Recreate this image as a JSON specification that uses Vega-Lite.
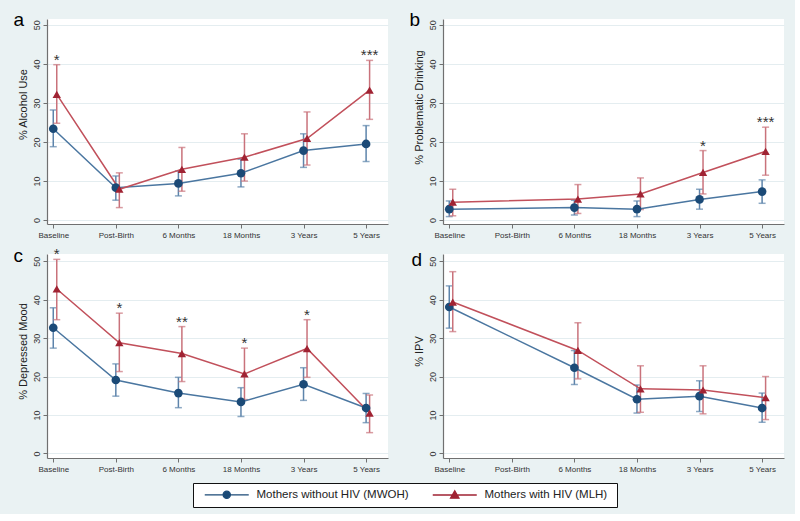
{
"$schema": "https://vega.github.io/schema/vega-lite/v6.json",
"background": "#eaf2f3",
"padding": {"left": 13, "top": 10, "right": 11, "bottom": 6},
"datasets": {"rows": [
{"panel":"a","g":"MWOH","t":1,"v":23.4,"lo":18.8,"hi":28.2},
{"panel":"a","g":"MWOH","t":2,"v":8.3,"lo":5.1,"hi":11.3},
{"panel":"a","g":"MWOH","t":3,"v":9.4,"lo":6.2,"hi":12.6},
{"panel":"a","g":"MWOH","t":4,"v":12.0,"lo":8.5,"hi":15.6},
{"panel":"a","g":"MWOH","t":5,"v":17.8,"lo":13.5,"hi":22.1},
{"panel":"a","g":"MWOH","t":6,"v":19.5,"lo":15.0,"hi":24.2},
{"panel":"a","g":"MLH","t":1,"v":32.2,"lo":24.8,"hi":39.8,"sig":"*"},
{"panel":"a","g":"MLH","t":2,"v":7.9,"lo":3.2,"hi":12.1},
{"panel":"a","g":"MLH","t":3,"v":13.0,"lo":7.4,"hi":18.6},
{"panel":"a","g":"MLH","t":4,"v":16.1,"lo":10.0,"hi":22.1},
{"panel":"a","g":"MLH","t":5,"v":20.9,"lo":14.1,"hi":27.7},
{"panel":"a","g":"MLH","t":6,"v":33.3,"lo":25.8,"hi":40.9,"sig":"***"},
{"panel":"b","g":"MWOH","t":1,"v":2.8,"lo":0.9,"hi":4.9},
{"panel":"b","g":"MWOH","t":3,"v":3.2,"lo":1.3,"hi":5.1},
{"panel":"b","g":"MWOH","t":4,"v":2.8,"lo":0.9,"hi":4.9},
{"panel":"b","g":"MWOH","t":5,"v":5.3,"lo":2.8,"hi":7.9},
{"panel":"b","g":"MWOH","t":6,"v":7.3,"lo":4.3,"hi":10.3},
{"panel":"b","g":"MLH","t":1,"v":4.6,"lo":1.1,"hi":7.9},
{"panel":"b","g":"MLH","t":3,"v":5.4,"lo":1.7,"hi":9.1},
{"panel":"b","g":"MLH","t":4,"v":6.7,"lo":2.7,"hi":10.8},
{"panel":"b","g":"MLH","t":5,"v":12.2,"lo":6.7,"hi":17.8,"sig":"*"},
{"panel":"b","g":"MLH","t":6,"v":17.6,"lo":11.5,"hi":23.8,"sig":"***"},
{"panel":"c","g":"MWOH","t":1,"v":32.7,"lo":27.4,"hi":37.9},
{"panel":"c","g":"MWOH","t":2,"v":19.1,"lo":14.9,"hi":23.3},
{"panel":"c","g":"MWOH","t":3,"v":15.7,"lo":11.9,"hi":19.8},
{"panel":"c","g":"MWOH","t":4,"v":13.4,"lo":9.6,"hi":17.1},
{"panel":"c","g":"MWOH","t":5,"v":18.0,"lo":13.8,"hi":22.3},
{"panel":"c","g":"MWOH","t":6,"v":11.8,"lo":8.0,"hi":15.6},
{"panel":"c","g":"MLH","t":1,"v":42.8,"lo":34.8,"hi":50.5,"sig":"*"},
{"panel":"c","g":"MLH","t":2,"v":28.8,"lo":21.3,"hi":36.5,"sig":"*"},
{"panel":"c","g":"MLH","t":3,"v":26.0,"lo":18.7,"hi":33.0,"sig":"**"},
{"panel":"c","g":"MLH","t":4,"v":20.7,"lo":14.0,"hi":27.4,"sig":"*"},
{"panel":"c","g":"MLH","t":5,"v":27.3,"lo":19.8,"hi":34.8,"sig":"*"},
{"panel":"c","g":"MLH","t":6,"v":10.5,"lo":5.4,"hi":15.2},
{"panel":"d","g":"MWOH","t":1,"v":38.1,"lo":32.6,"hi":43.6},
{"panel":"d","g":"MWOH","t":3,"v":22.3,"lo":17.9,"hi":26.8},
{"panel":"d","g":"MWOH","t":4,"v":14.1,"lo":10.5,"hi":17.8},
{"panel":"d","g":"MWOH","t":5,"v":14.9,"lo":10.9,"hi":18.9},
{"panel":"d","g":"MWOH","t":6,"v":11.8,"lo":8.1,"hi":15.7},
{"panel":"d","g":"MLH","t":1,"v":39.4,"lo":31.7,"hi":47.3},
{"panel":"d","g":"MLH","t":3,"v":26.8,"lo":19.4,"hi":34.0},
{"panel":"d","g":"MLH","t":4,"v":16.8,"lo":10.7,"hi":22.8},
{"panel":"d","g":"MLH","t":5,"v":16.5,"lo":10.3,"hi":22.8},
{"panel":"d","g":"MLH","t":6,"v":14.5,"lo":8.8,"hi":20.0}
]},
"columns": 2,
"spacing": {"row": 30, "column": 55},
"bounds": "flush",
"concat": [
{
 "width": 341, "height": 205,
 "data": {"name": "rows"},
 "transform": [{"filter": "datum.panel=='a'"}],
 "encoding": {
  "x": {"field": "t", "type": "quantitative", "scale": {"domain": [0.9, 6.35], "nice": false, "zero": false}, "axis": {"values": [1,2,3,4,5,6], "labelExpr": "['','Baseline','Post-Birth','6 Months','18 Months','3 Years','5 Years'][datum.value]", "title": "a", "titleX": -34, "titleY": -199}},
  "y": {"field": "v", "type": "quantitative", "scale": {"domain": [-1, 51.5], "nice": false, "zero": false}, "axis": {"values": [0,10,20,30,40,50], "title": "% Alcohol Use", "titleY": 85}}
 },
 "layer": [
  {"transform": [{"filter": "datum.g=='MWOH'"}], "mark": {"type": "rule", "color": "#5d84ab", "strokeWidth": 1.5}, "encoding": {"y": {"field": "lo", "type": "quantitative", "scale": {"domain": [-1, 51.5], "nice": false, "zero": false}}, "y2": {"field": "hi"}}},
  {"transform": [{"filter": "datum.g=='MWOH'"}], "mark": {"type": "tick", "orient": "horizontal", "size": 7, "thickness": 1.5, "color": "#5d84ab"}, "encoding": {"y": {"field": "lo", "type": "quantitative", "scale": {"domain": [-1, 51.5], "nice": false, "zero": false}}}},
  {"transform": [{"filter": "datum.g=='MWOH'"}], "mark": {"type": "tick", "orient": "horizontal", "size": 7, "thickness": 1.5, "color": "#5d84ab"}, "encoding": {"y": {"field": "hi", "type": "quantitative", "scale": {"domain": [-1, 51.5], "nice": false, "zero": false}}}},
  {"transform": [{"filter": "datum.g=='MLH'"}], "mark": {"type": "rule", "color": "#c9727b", "strokeWidth": 1.5, "xOffset": 3.5}, "encoding": {"y": {"field": "lo", "type": "quantitative", "scale": {"domain": [-1, 51.5], "nice": false, "zero": false}}, "y2": {"field": "hi"}}},
  {"transform": [{"filter": "datum.g=='MLH'"}], "mark": {"type": "tick", "orient": "horizontal", "size": 7, "thickness": 1.5, "color": "#c9727b", "xOffset": 3.5}, "encoding": {"y": {"field": "lo", "type": "quantitative", "scale": {"domain": [-1, 51.5], "nice": false, "zero": false}}}},
  {"transform": [{"filter": "datum.g=='MLH'"}], "mark": {"type": "tick", "orient": "horizontal", "size": 7, "thickness": 1.5, "color": "#c9727b", "xOffset": 3.5}, "encoding": {"y": {"field": "hi", "type": "quantitative", "scale": {"domain": [-1, 51.5], "nice": false, "zero": false}}}},
  {"transform": [{"filter": "datum.g=='MWOH'"}], "mark": {"type": "line", "color": "#4a76a0", "strokeWidth": 1.5}, "encoding": {}},
  {"transform": [{"filter": "datum.g=='MLH'"}], "mark": {"type": "line", "color": "#c1505b", "strokeWidth": 1.5, "xOffset": 3.5}, "encoding": {}},
  {"transform": [{"filter": "datum.g=='MWOH'"}], "mark": {"type": "point", "shape": "circle", "filled": true, "size": 75, "color": "#1b4a77", "opacity": 1}},
  {"transform": [{"filter": "datum.g=='MLH'"}], "mark": {"type": "point", "shape": "triangle-up", "filled": true, "size": 70, "color": "#a02333", "opacity": 1, "xOffset": 3.5}},
  {"transform": [{"filter": "datum.sig"}], "mark": {"type": "text", "xOffset": 3.5, "dy": 0, "fontSize": 15, "baseline": "alphabetic", "color": "#333", "font": "Liberation Sans"}, "encoding": {"text": {"field": "sig"}, "y": {"field": "hi", "type": "quantitative", "scale": {"domain": [-1, 51.5], "nice": false, "zero": false}}}},
  {"mark": {"type": "point", "filled": true, "opacity": 0, "size": 64},
   "encoding": {
    "color": {"field": "g", "type": "nominal", "scale": {"domain": ["MWOH", "MLH"], "range": ["#1b4a77", "#a02333"]},
      "legend": {"orient": "none", "legendX": 146, "legendY": 464, "direction": "horizontal", "columns": 2, "title": null,
        "labelExpr": "datum.label=='MWOH' ? 'Mothers without HIV  (MWOH)' : 'Mothers with HIV  (MLH)'",
        "labelFont": "Liberation Sans", "labelFontSize": 11.5, "labelColor": "#222", "labelOffset": 46, "columnPadding": 15, "padding": 6,
        "strokeColor": "#111", "fillColor": "#ffffff", "symbolSize": 64,
        "encode": {"symbols": {"update": {"fill": {"scale": "color", "field": "value"}, "stroke": {"scale": "color", "field": "value"}, "strokeWidth": {"value": 1.3}, "opacity": {"value": 1}}}}}},
    "shape": {"field": "g", "type": "nominal", "scale": {"domain": ["MWOH", "MLH"], "range": ["M0,0H11M6.4,0A0.9,0.9,0,1,1,4.6,0A0.9,0.9,0,1,1,6.4,0Z", "M0,0H11M5.5,-1.05L6.55,0.8L4.45,0.8Z"]},
      "legend": {"orient": "none", "legendX": 146, "legendY": 464, "direction": "horizontal", "columns": 2, "title": null,
        "labelExpr": "datum.label=='MWOH' ? 'Mothers without HIV  (MWOH)' : 'Mothers with HIV  (MLH)'",
        "labelFont": "Liberation Sans", "labelFontSize": 11.5, "labelColor": "#222", "labelOffset": 46, "columnPadding": 15, "padding": 6,
        "strokeColor": "#111", "fillColor": "#ffffff", "symbolSize": 64,
        "encode": {"symbols": {"update": {"fill": {"scale": "color", "field": "value"}, "stroke": {"scale": "color", "field": "value"}, "strokeWidth": {"value": 1.3}, "opacity": {"value": 1}}}}}}
   }}
 ]
},
{
 "width": 341, "height": 205,
 "data": {"name": "rows"},
 "transform": [{"filter": "datum.panel=='b'"}],
 "encoding": {
  "x": {"field": "t", "type": "quantitative", "scale": {"domain": [0.9, 6.35], "nice": false, "zero": false}, "axis": {"values": [1,2,3,4,5,6], "labelExpr": "['','Baseline','Post-Birth','6 Months','18 Months','3 Years','5 Years'][datum.value]", "title": "b", "titleX": -34, "titleY": -199}},
  "y": {"field": "v", "type": "quantitative", "scale": {"domain": [-1, 51.5], "nice": false, "zero": false}, "axis": {"values": [0,10,20,30,40,50], "title": "% Problematic Drinking", "titleY": 88}}
 },
 "layer": [
  {"transform": [{"filter": "datum.g=='MWOH'"}], "mark": {"type": "rule", "color": "#5d84ab", "strokeWidth": 1.5}, "encoding": {"y": {"field": "lo", "type": "quantitative", "scale": {"domain": [-1, 51.5], "nice": false, "zero": false}}, "y2": {"field": "hi"}}},
  {"transform": [{"filter": "datum.g=='MWOH'"}], "mark": {"type": "tick", "orient": "horizontal", "size": 7, "thickness": 1.5, "color": "#5d84ab"}, "encoding": {"y": {"field": "lo", "type": "quantitative", "scale": {"domain": [-1, 51.5], "nice": false, "zero": false}}}},
  {"transform": [{"filter": "datum.g=='MWOH'"}], "mark": {"type": "tick", "orient": "horizontal", "size": 7, "thickness": 1.5, "color": "#5d84ab"}, "encoding": {"y": {"field": "hi", "type": "quantitative", "scale": {"domain": [-1, 51.5], "nice": false, "zero": false}}}},
  {"transform": [{"filter": "datum.g=='MLH'"}], "mark": {"type": "rule", "color": "#c9727b", "strokeWidth": 1.5, "xOffset": 3.5}, "encoding": {"y": {"field": "lo", "type": "quantitative", "scale": {"domain": [-1, 51.5], "nice": false, "zero": false}}, "y2": {"field": "hi"}}},
  {"transform": [{"filter": "datum.g=='MLH'"}], "mark": {"type": "tick", "orient": "horizontal", "size": 7, "thickness": 1.5, "color": "#c9727b", "xOffset": 3.5}, "encoding": {"y": {"field": "lo", "type": "quantitative", "scale": {"domain": [-1, 51.5], "nice": false, "zero": false}}}},
  {"transform": [{"filter": "datum.g=='MLH'"}], "mark": {"type": "tick", "orient": "horizontal", "size": 7, "thickness": 1.5, "color": "#c9727b", "xOffset": 3.5}, "encoding": {"y": {"field": "hi", "type": "quantitative", "scale": {"domain": [-1, 51.5], "nice": false, "zero": false}}}},
  {"transform": [{"filter": "datum.g=='MWOH'"}], "mark": {"type": "line", "color": "#4a76a0", "strokeWidth": 1.5}, "encoding": {}},
  {"transform": [{"filter": "datum.g=='MLH'"}], "mark": {"type": "line", "color": "#c1505b", "strokeWidth": 1.5, "xOffset": 3.5}, "encoding": {}},
  {"transform": [{"filter": "datum.g=='MWOH'"}], "mark": {"type": "point", "shape": "circle", "filled": true, "size": 75, "color": "#1b4a77", "opacity": 1}},
  {"transform": [{"filter": "datum.g=='MLH'"}], "mark": {"type": "point", "shape": "triangle-up", "filled": true, "size": 70, "color": "#a02333", "opacity": 1, "xOffset": 3.5}},
  {"transform": [{"filter": "datum.sig"}], "mark": {"type": "text", "xOffset": 3.5, "dy": 0, "fontSize": 15, "baseline": "alphabetic", "color": "#333", "font": "Liberation Sans"}, "encoding": {"text": {"field": "sig"}, "y": {"field": "hi", "type": "quantitative", "scale": {"domain": [-1, 51.5], "nice": false, "zero": false}}}}
 ]
},
{
 "width": 341, "height": 204,
 "data": {"name": "rows"},
 "transform": [{"filter": "datum.panel=='c'"}],
 "encoding": {
  "x": {"field": "t", "type": "quantitative", "scale": {"domain": [0.9, 6.35], "nice": false, "zero": false}, "axis": {"values": [1,2,3,4,5,6], "labelExpr": "['','Baseline','Post-Birth','6 Months','18 Months','3 Years','5 Years'][datum.value]", "title": "c", "titleX": -34, "titleY": -197}},
  "y": {"field": "v", "type": "quantitative", "scale": {"domain": [-1.2, 51.9], "nice": false, "zero": false}, "axis": {"values": [0,10,20,30,40,50], "title": "% Depressed Mood", "titleY": 97}}
 },
 "layer": [
  {"transform": [{"filter": "datum.g=='MWOH'"}], "mark": {"type": "rule", "color": "#5d84ab", "strokeWidth": 1.5}, "encoding": {"y": {"field": "lo", "type": "quantitative", "scale": {"domain": [-1.2, 51.9], "nice": false, "zero": false}}, "y2": {"field": "hi"}}},
  {"transform": [{"filter": "datum.g=='MWOH'"}], "mark": {"type": "tick", "orient": "horizontal", "size": 7, "thickness": 1.5, "color": "#5d84ab"}, "encoding": {"y": {"field": "lo", "type": "quantitative", "scale": {"domain": [-1.2, 51.9], "nice": false, "zero": false}}}},
  {"transform": [{"filter": "datum.g=='MWOH'"}], "mark": {"type": "tick", "orient": "horizontal", "size": 7, "thickness": 1.5, "color": "#5d84ab"}, "encoding": {"y": {"field": "hi", "type": "quantitative", "scale": {"domain": [-1.2, 51.9], "nice": false, "zero": false}}}},
  {"transform": [{"filter": "datum.g=='MLH'"}], "mark": {"type": "rule", "color": "#c9727b", "strokeWidth": 1.5, "xOffset": 3.5}, "encoding": {"y": {"field": "lo", "type": "quantitative", "scale": {"domain": [-1.2, 51.9], "nice": false, "zero": false}}, "y2": {"field": "hi"}}},
  {"transform": [{"filter": "datum.g=='MLH'"}], "mark": {"type": "tick", "orient": "horizontal", "size": 7, "thickness": 1.5, "color": "#c9727b", "xOffset": 3.5}, "encoding": {"y": {"field": "lo", "type": "quantitative", "scale": {"domain": [-1.2, 51.9], "nice": false, "zero": false}}}},
  {"transform": [{"filter": "datum.g=='MLH'"}], "mark": {"type": "tick", "orient": "horizontal", "size": 7, "thickness": 1.5, "color": "#c9727b", "xOffset": 3.5}, "encoding": {"y": {"field": "hi", "type": "quantitative", "scale": {"domain": [-1.2, 51.9], "nice": false, "zero": false}}}},
  {"transform": [{"filter": "datum.g=='MWOH'"}], "mark": {"type": "line", "color": "#4a76a0", "strokeWidth": 1.5}, "encoding": {}},
  {"transform": [{"filter": "datum.g=='MLH'"}], "mark": {"type": "line", "color": "#c1505b", "strokeWidth": 1.5, "xOffset": 3.5}, "encoding": {}},
  {"transform": [{"filter": "datum.g=='MWOH'"}], "mark": {"type": "point", "shape": "circle", "filled": true, "size": 75, "color": "#1b4a77", "opacity": 1}},
  {"transform": [{"filter": "datum.g=='MLH'"}], "mark": {"type": "point", "shape": "triangle-up", "filled": true, "size": 70, "color": "#a02333", "opacity": 1, "xOffset": 3.5}},
  {"transform": [{"filter": "datum.sig"}], "mark": {"type": "text", "xOffset": 3.5, "dy": 0, "fontSize": 15, "baseline": "alphabetic", "color": "#333", "font": "Liberation Sans"}, "encoding": {"text": {"field": "sig"}, "y": {"field": "hi", "type": "quantitative", "scale": {"domain": [-1.2, 51.9], "nice": false, "zero": false}}}}
 ]
},
{
 "width": 341, "height": 204,
 "data": {"name": "rows"},
 "transform": [{"filter": "datum.panel=='d'"}],
 "encoding": {
  "x": {"field": "t", "type": "quantitative", "scale": {"domain": [0.9, 6.35], "nice": false, "zero": false}, "axis": {"values": [1,2,3,4,5,6], "labelExpr": "['','Baseline','Post-Birth','6 Months','18 Months','3 Years','5 Years'][datum.value]", "title": "d", "titleX": -32, "titleY": -193}},
  "y": {"field": "v", "type": "quantitative", "scale": {"domain": [-1.2, 51.9], "nice": false, "zero": false}, "axis": {"values": [0,10,20,30,40,50], "title": "% IPV", "titleY": 97}}
 },
 "layer": [
  {"transform": [{"filter": "datum.g=='MWOH'"}], "mark": {"type": "rule", "color": "#5d84ab", "strokeWidth": 1.5}, "encoding": {"y": {"field": "lo", "type": "quantitative", "scale": {"domain": [-1.2, 51.9], "nice": false, "zero": false}}, "y2": {"field": "hi"}}},
  {"transform": [{"filter": "datum.g=='MWOH'"}], "mark": {"type": "tick", "orient": "horizontal", "size": 7, "thickness": 1.5, "color": "#5d84ab"}, "encoding": {"y": {"field": "lo", "type": "quantitative", "scale": {"domain": [-1.2, 51.9], "nice": false, "zero": false}}}},
  {"transform": [{"filter": "datum.g=='MWOH'"}], "mark": {"type": "tick", "orient": "horizontal", "size": 7, "thickness": 1.5, "color": "#5d84ab"}, "encoding": {"y": {"field": "hi", "type": "quantitative", "scale": {"domain": [-1.2, 51.9], "nice": false, "zero": false}}}},
  {"transform": [{"filter": "datum.g=='MLH'"}], "mark": {"type": "rule", "color": "#c9727b", "strokeWidth": 1.5, "xOffset": 3.5}, "encoding": {"y": {"field": "lo", "type": "quantitative", "scale": {"domain": [-1.2, 51.9], "nice": false, "zero": false}}, "y2": {"field": "hi"}}},
  {"transform": [{"filter": "datum.g=='MLH'"}], "mark": {"type": "tick", "orient": "horizontal", "size": 7, "thickness": 1.5, "color": "#c9727b", "xOffset": 3.5}, "encoding": {"y": {"field": "lo", "type": "quantitative", "scale": {"domain": [-1.2, 51.9], "nice": false, "zero": false}}}},
  {"transform": [{"filter": "datum.g=='MLH'"}], "mark": {"type": "tick", "orient": "horizontal", "size": 7, "thickness": 1.5, "color": "#c9727b", "xOffset": 3.5}, "encoding": {"y": {"field": "hi", "type": "quantitative", "scale": {"domain": [-1.2, 51.9], "nice": false, "zero": false}}}},
  {"transform": [{"filter": "datum.g=='MWOH'"}], "mark": {"type": "line", "color": "#4a76a0", "strokeWidth": 1.5}, "encoding": {}},
  {"transform": [{"filter": "datum.g=='MLH'"}], "mark": {"type": "line", "color": "#c1505b", "strokeWidth": 1.5, "xOffset": 3.5}, "encoding": {}},
  {"transform": [{"filter": "datum.g=='MWOH'"}], "mark": {"type": "point", "shape": "circle", "filled": true, "size": 75, "color": "#1b4a77", "opacity": 1}},
  {"transform": [{"filter": "datum.g=='MLH'"}], "mark": {"type": "point", "shape": "triangle-up", "filled": true, "size": 70, "color": "#a02333", "opacity": 1, "xOffset": 3.5}}
 ]
}
],
"config": {
 "font": "Liberation Sans",
 "view": {"stroke": null, "fill": "#ffffff"},
 "axis": {"domainColor": "#707070", "domainWidth": 1.2, "tickColor": "#707070", "tickSize": 4, "labelColor": "#333333", "labelFont": "Liberation Sans", "titleFont": "Liberation Sans", "titleFontWeight": "normal", "titleColor": "#222222"},
 "axisX": {"labelFontSize": 8, "grid": false, "labelPadding": 3, "labelAngle": 0, "labelOverlap": false, "labelFlush": false, "titleFontSize": 19, "titleColor": "#000000", "titleAlign": "left", "titleBaseline": "alphabetic", "titleAngle": 0},
 "axisY": {"labelFontSize": 9, "labelAngle": 270, "grid": true, "gridColor": "#e4edf0", "titleFontSize": 11, "labelPadding": 2, "titlePadding": 4}
}
}
